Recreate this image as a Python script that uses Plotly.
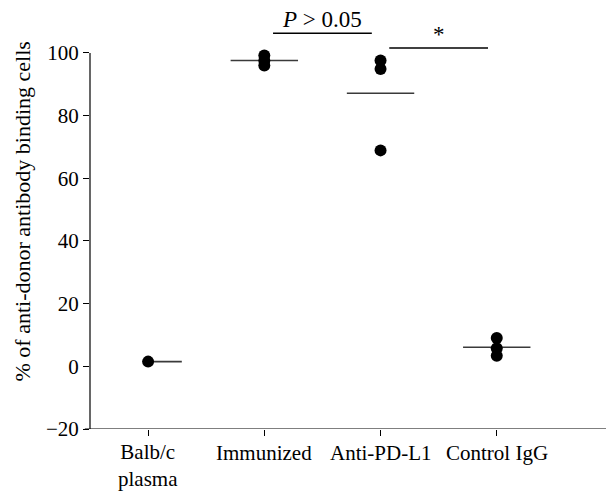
import plotly.graph_objects as go

categories = ["Balb/c<br>plasma", "Immunized", "Anti-PD-L1", "Control IgG"]
balb = [1.5]
immunized = [99.2, 97.5, 96.0]
anti_pdl1 = [97.6, 94.9, 68.9]
control = [9.0, 5.8, 3.4]
groups = [balb, immunized, anti_pdl1, control]
y_ticks = [-20, 0, 20, 40, 60, 80, 100]
comparisons = [(1, 2, "<i>P</i> > 0.05", 106.3), (2, 3, "*", 101.6)]

FONT = "Liberation Serif, Times New Roman, serif"
FS = 21
fig = go.Figure()

for i, vals in enumerate(groups):
    fig.add_trace(go.Scatter(
        x=[i] * len(vals), y=vals, mode="markers",
        marker=dict(color="black", size=12),
        showlegend=False, cliponaxis=False))

# mean lines
half_left = [0.0, 0.29, 0.29, 0.29]
half_right = [0.29, 0.29, 0.29, 0.29]
for i, vals in enumerate(groups):
    m = sum(vals) / len(vals)
    fig.add_shape(type="line", xref="x", yref="y",
                  x0=i - half_left[i], x1=i + half_right[i], y0=m, y1=m,
                  line=dict(color="#3a3a3a", width=1.6), layer="below")

# significance bars
inset = 0.075
for a, b, label, yv in comparisons:
    fig.add_shape(type="line", xref="x", yref="y",
                  x0=a + inset, x1=b - inset, y0=yv, y1=yv,
                  line=dict(color="black", width=1.5))
    fig.add_annotation(x=(a + b) / 2, y=yv, xref="x", yref="y",
                       text=label, showarrow=False, yanchor="bottom",
                       yshift=-1, font=dict(family=FONT, size=23, color="black"))

# axis lines
fig.add_shape(type="line", xref="paper", yref="y", x0=0, x1=0, y0=-20, y1=100,
              line=dict(color="black", width=1.2))
fig.add_shape(type="line", xref="paper", yref="y", x0=-0.01, x1=1, y0=-20, y1=-20,
              line=dict(color="black", width=1.2))

# category labels
for i, cat in enumerate(categories):
    if "<br>" in cat:
        fig.add_annotation(x=i, xref="x", yref="paper", y=0,
                           yanchor="bottom", yshift=-64,
                           text=cat, showarrow=False,
                           font=dict(family=FONT, size=FS, color="black"))
    else:
        fig.add_annotation(x=i, xref="x", yref="paper", y=0,
                           yanchor="top", yshift=-10,
                           text=cat, showarrow=False,
                           font=dict(family=FONT, size=FS, color="black"))

fig.add_annotation(xref="paper", yref="y", x=0, y=49.4, xshift=-68,
                   text="% of anti-donor antibody binding cells", textangle=-90,
                   showarrow=False, xanchor="center", yanchor="middle",
                   font=dict(family=FONT, size=22, color="black"))

fig.update_layout(
    width=609, height=493,
    margin=dict(l=90, r=3, t=20, b=64),
    plot_bgcolor="white", paper_bgcolor="white",
    font=dict(family=FONT, size=FS, color="black"),
    xaxis=dict(range=[-0.5, 3.94], tickvals=[0, 1, 2, 3],
               showticklabels=False,
               showgrid=False, zeroline=False, showline=False,
               ticks="outside", ticklen=6, tickcolor="black", tickwidth=1.2),
    yaxis=dict(range=[-20, 110.5], tickvals=y_ticks,
               ticktext=[("\u2212" + str(-v)) if v < 0 else str(v) for v in y_ticks],
               showgrid=False, zeroline=False, showline=False,
               ticks="outside", ticklen=6, tickcolor="black", tickwidth=1.2,
               tickfont=dict(family=FONT, size=FS)),
)

fig.write_html("out.html")
